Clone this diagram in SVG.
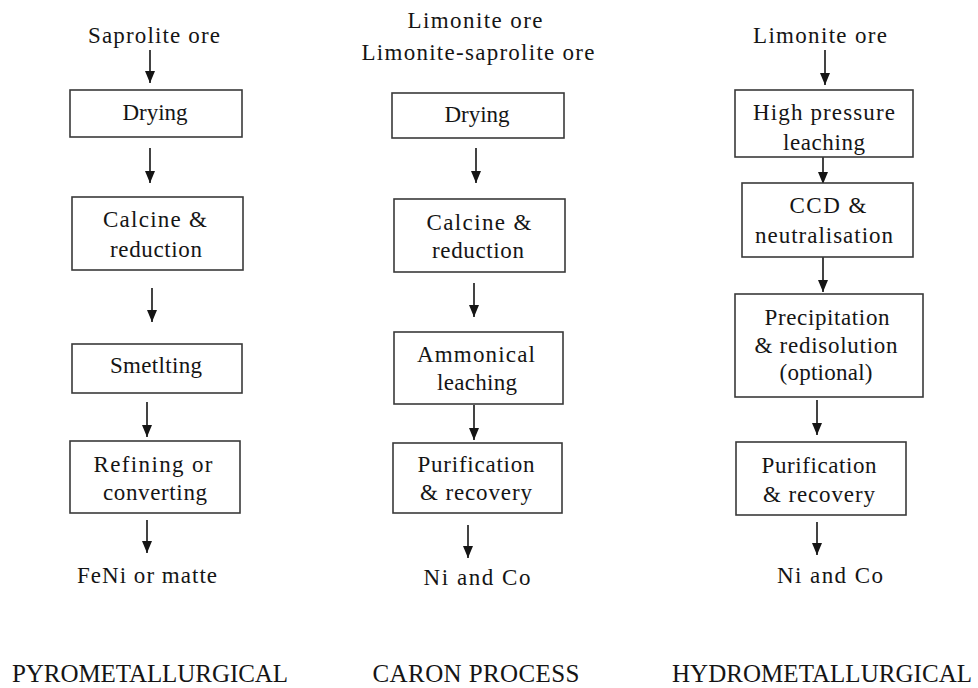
<svg xmlns="http://www.w3.org/2000/svg" width="978" height="688" viewBox="0 0 978 688" font-family="'Liberation Serif', 'Times New Roman', 'DejaVu Serif', serif">
<style>
text{font-family:'Liberation Serif','Times New Roman','DejaVu Serif',serif;font-size:23px;fill:#151515;text-anchor:middle}
.box{fill:#fff;stroke:#3a3a3a;stroke-width:1.6}
.arr{stroke:#151515;stroke-width:1.6;fill:none;marker-end:url(#ah)}
text.title{font-size:25px}
</style>
<defs>
<marker id="ah" viewBox="0 0 12 10" refX="12" refY="5" markerWidth="12" markerHeight="10" markerUnits="userSpaceOnUse" orient="auto">
<path d="M0,0 L12,5 L0,10 z" fill="#151515"/>
</marker>
</defs>
<rect width="978" height="688" fill="#fff"/>

<g id="connectors">
<path class="arr" d="M150,50 V83"/>
<path class="arr" d="M150,148 V183"/>
<path class="arr" d="M152,288 V322"/>
<path class="arr" d="M147,402 V437"/>
<path class="arr" d="M147,520 V553"/>
<path class="arr" d="M476,148 V183"/>
<path class="arr" d="M474,283 V317"/>
<path class="arr" d="M474,405 V440"/>
<path class="arr" d="M468,525 V558"/>
<path class="arr" d="M825,50 V85"/>
<path class="arr" d="M823,157 V184"/>
<path class="arr" d="M823,257 V292"/>
<path class="arr" d="M817,400 V435"/>
<path class="arr" d="M817,522 V555"/>
</g>

<g id="pyro-input"><text x="154" y="43" textLength="132">Saprolite ore</text></g>
<g id="pyro-drying"><rect class="box" x="70" y="90" width="172" height="47"/><text x="155" y="120" textLength="65">Drying</text></g>
<g id="pyro-calcine"><rect class="box" x="72" y="197" width="171" height="73"/><text x="155" y="227" textLength="104">Calcine &amp;</text><text x="156" y="257" textLength="92">reduction</text></g>
<g id="pyro-smelting"><rect class="box" x="72" y="344" width="170" height="49"/><text x="156" y="373" textLength="92">Smetlting</text></g>
<g id="pyro-refining"><rect class="box" x="70" y="441" width="170" height="72"/><text x="153" y="472" textLength="119">Refining or</text><text x="155" y="500" textLength="104">converting</text></g>
<g id="pyro-output"><text x="147" y="583" textLength="140">FeNi or matte</text></g>
<g id="pyro-label"><text class="title" x="150" y="682" textLength="276">PYROMETALLURGICAL</text></g>

<g id="caron-input"><text x="475" y="28" textLength="135">Limonite ore</text><text x="478" y="60" textLength="233">Limonite-saprolite ore</text></g>
<g id="caron-drying"><rect class="box" x="392" y="93" width="172" height="45"/><text x="477" y="122" textLength="65">Drying</text></g>
<g id="caron-calcine"><rect class="box" x="394" y="199" width="171" height="73"/><text x="479" y="230" textLength="105">Calcine &amp;</text><text x="478" y="258" textLength="92">reduction</text></g>
<g id="caron-leaching"><rect class="box" x="394" y="332" width="169" height="72"/><text x="476" y="362" textLength="118">Ammonical</text><text x="477" y="390" textLength="80">leaching</text></g>
<g id="caron-purification"><rect class="box" x="393" y="443" width="169" height="70"/><text x="476" y="472" textLength="117">Purification</text><text x="476" y="500" textLength="112">&amp; recovery</text></g>
<g id="caron-output"><text x="477" y="585" textLength="107">Ni and Co</text></g>
<g id="caron-label"><text class="title" x="476" y="682" textLength="207">CARON PROCESS</text></g>

<g id="hydro-input"><text x="820" y="43" textLength="134">Limonite ore</text></g>
<g id="hydro-hpl"><rect class="box" x="735" y="90" width="178" height="67"/><text x="824" y="120" textLength="142">High pressure</text><text x="824" y="150" textLength="82">leaching</text></g>
<g id="hydro-ccd"><rect class="box" x="742" y="183" width="171" height="74"/><text x="828" y="213" textLength="77">CCD &amp;</text><text x="824" y="243" textLength="138">neutralisation</text></g>
<g id="hydro-precipitation"><rect class="box" x="735" y="294" width="188" height="103"/><text x="827" y="325" textLength="125">Precipitation</text><text x="826" y="353" textLength="143">&amp; redisolution</text><text x="826" y="380" textLength="93">(optional)</text></g>
<g id="hydro-purification"><rect class="box" x="736" y="442" width="170" height="73"/><text x="819" y="473" textLength="115">Purification</text><text x="819" y="502" textLength="112">&amp; recovery</text></g>
<g id="hydro-output"><text x="830" y="583" textLength="106">Ni and Co</text></g>
<g id="hydro-label"><text class="title" x="822" y="682" textLength="300">HYDROMETALLURGICAL</text></g>
</svg>
